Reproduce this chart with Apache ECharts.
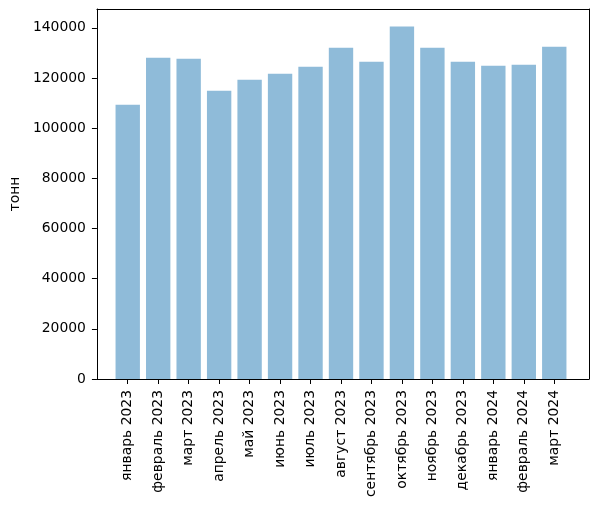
<!DOCTYPE html>
<html><head><meta charset="utf-8">
<script src="https://cdn.jsdelivr.net/npm/echarts@6/dist/echarts.min.js"></script>
<style>html,body{margin:0;padding:0;background:#fff}#c{width:598px;height:506px}</style>
</head><body><div id="c"></div>
<script>
const categories = ['январь 2023','февраль 2023','март 2023','апрель 2023','май 2023','июнь 2023','июль 2023','август 2023','сентябрь 2023','октябрь 2023','ноябрь 2023','декабрь 2023','январь 2024','февраль 2024','март 2024'];
const values = [109300,128100,127700,114900,119300,121700,124500,132100,126500,140500,132100,126500,124900,125300,132500];
const yTicks = [0,20000,40000,60000,80000,100000,120000,140000];

const L = 93, R = 9, T = 9, B = 127, W = 598 - L - R;
const span = (values.length - 1 + 0.8) * 1.1; // matplotlib margins
const unit = W / span;
const pad = (span - values.length) / 2 * unit;
const yMax = 147500;
const font = 'DejaVu Sans';
const fs = 13.9;
const black = {color: '#000', width: 1};
const frameAxis = {axisLine: {show: true, onZero: false, lineStyle: black}, axisTick: {show: false}, axisLabel: {show: false}, splitLine: {show: false}};

const chart = echarts.init(document.getElementById('c'), null, {renderer:'canvas'});
chart.setOption({
  animation: false,
  grid: [
    {left: L, right: R, top: T, bottom: B},
    {left: L + pad, width: values.length * unit, top: T, bottom: B}
  ],
  xAxis: [
    Object.assign({type: 'value', gridIndex: 0, min: 0, max: 1, position: 'bottom'}, frameAxis),
    Object.assign({type: 'value', gridIndex: 0, min: 0, max: 1, position: 'top'}, frameAxis),
    {type: 'category', gridIndex: 1, data: categories,
     axisLine: {show: false},
     axisTick: {show: true, alignWithLabel: true, length: 5, lineStyle: black},
     axisLabel: {rotate: 90, color: '#000', fontFamily: font, fontSize: fs, margin: 11, interval: 0}}
  ],
  yAxis: [
    {type: 'value', gridIndex: 0, min: 0, max: yMax, position: 'left',
     name: 'тонн', nameLocation: 'middle', nameGap: 70, nameRotate: 90,
     nameTextStyle: {color: '#000', fontFamily: font, fontSize: fs},
     axisLine: {show: true, onZero: false, lineStyle: black},
     axisTick: {show: true, length: 5, lineStyle: black, customValues: yTicks},
     axisLabel: {color: '#000', fontFamily: font, fontSize: fs, margin: 11, customValues: yTicks,
       formatter: v => String(v)},
     splitLine: {show: false}},
    Object.assign({type: 'value', gridIndex: 0, min: 0, max: yMax, position: 'right'}, frameAxis),
    {type: 'value', gridIndex: 1, min: 0, max: yMax, show: false}
  ],
  series: [{
    type: 'bar', xAxisIndex: 2, yAxisIndex: 2, data: values,
    barWidth: (0.8 * unit),
    itemStyle: {color: '#8fbbd9', borderWidth: 0}
  }]
});
</script></body></html>
